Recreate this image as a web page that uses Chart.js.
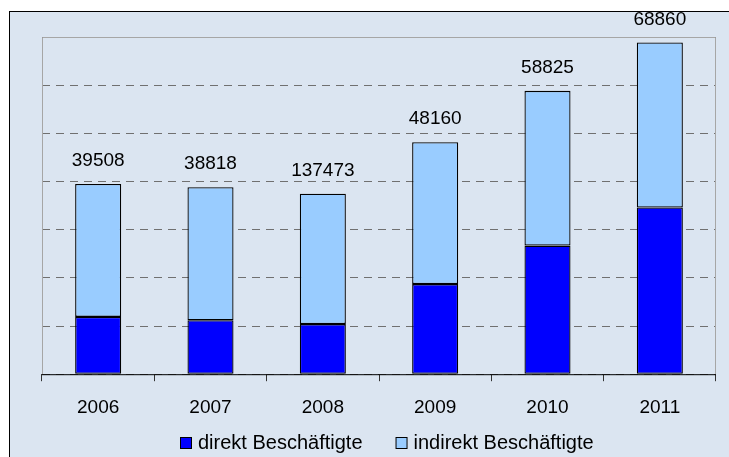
<!DOCTYPE html>
<html>
<head>
<meta charset="utf-8">
<script src="https://cdn.jsdelivr.net/npm/chart.js@4.4.1/dist/chart.umd.min.js"></script>
<style>
  html, body { margin: 0; padding: 0; background: #fff; }
  #wrap { position: relative; width: 729px; height: 457px; overflow: hidden; }
  #frame { position: absolute; left: 9px; top: 11px; width: 800px; height: 500px;
           border-left: 1px solid #000; border-top: 1px solid #000; background: #dbe5f1; }
  #myChart { position: absolute; left: 0; top: 0; }
</style>
</head>
<body>
<div id="wrap">
  <div id="frame"></div>
  <canvas id="myChart" width="729" height="457"></canvas>
</div>
<script>
const years = ['2006', '2007', '2008', '2009', '2010', '2011'];
const direkt = [11900, 11200, 10400, 18700, 26700, 34600];
const indirekt = [27608, 27618, 27073, 29460, 32125, 34260];
// labels over the bars as printed in the original (2008 says 137473)
const totalLabels = ['39508', '38818', '137473', '48160', '58825', '68860'];

const fontName = '"Liberation Sans", Arial, sans-serif';

// numbers above the stacked bars
const totalsPlugin = {
    id: 'totals',
    afterDatasetsDraw(chart) {
        const ctx = chart.ctx;
        const top = chart.getDatasetMeta(chart.data.datasets.length - 1);
        ctx.save();
        ctx.font = '19px ' + fontName;
        ctx.fillStyle = '#000';
        ctx.textAlign = 'center';
        ctx.textBaseline = 'middle';
        top.data.forEach((bar, i) => {
            ctx.fillText(totalLabels[i], bar.x, bar.y - 23);
        });
        ctx.restore();
    }
};

// gray frame around the plot area + legend in the bottom strip
const frameLegendPlugin = {
    id: 'frameLegend',
    afterDraw(chart) {
        const ctx = chart.ctx;
        const a = chart.chartArea;
        ctx.save();
        ctx.strokeStyle = '#a6a6a6';
        ctx.lineWidth = 1;
        ctx.beginPath();
        ctx.moveTo(a.left + 0.5, a.bottom);
        ctx.lineTo(a.left + 0.5, a.top + 0.5);
        ctx.lineTo(a.right - 0.5, a.top + 0.5);
        ctx.lineTo(a.right - 0.5, a.bottom);
        ctx.stroke();
        ctx.strokeStyle = '#000';
        ctx.beginPath();
        ctx.moveTo(a.left, a.bottom + 0.5);
        ctx.lineTo(a.right, a.bottom + 0.5);
        ctx.stroke();

        ctx.font = '20px ' + fontName;
        ctx.textBaseline = 'middle';
        ctx.textAlign = 'left';
        let x = 180;
        const y = 443;
        chart.data.datasets.forEach(ds => {
            ctx.fillStyle = ds.backgroundColor;
            ctx.fillRect(x + 0.5, y - 5.5, 11, 11);
            ctx.strokeStyle = '#000';
            ctx.strokeRect(x + 0.5, y - 5.5, 11, 11);
            ctx.fillStyle = '#000';
            ctx.fillText(ds.label, x + 18, y);
            x += 18 + ctx.measureText(ds.label).width + 33;
        });
        ctx.restore();
    }
};

const ctx = document.getElementById('myChart').getContext('2d');
const chart = new Chart(ctx, {
    type: 'bar',
    data: {
        labels: years,
        datasets: [{
            label: 'direkt Beschäftigte',
            data: direkt,
            backgroundColor: '#0000ff',
            borderColor: '#000000',
            borderWidth: 1.3,
            borderSkipped: false
        }, {
            label: 'indirekt Beschäftigte',
            data: indirekt,
            backgroundColor: '#99ccff',
            borderColor: '#000000',
            borderWidth: 1.3,
            borderSkipped: false
        }]
    },
    options: {
        responsive: false,
        animation: false,
        categoryPercentage: 1,
        barPercentage: 0.41,
        layout: { padding: { left: 42, right: 13, top: 37, bottom: 23 } },
        plugins: {
            legend: { display: false },
            tooltip: { enabled: false }
        },
        scales: {
            x: {
                stacked: true,
                grid: {
                    offset: true,
                    drawOnChartArea: false,
                    drawTicks: true,
                    tickLength: 7,
                    color: '#333'
                },
                border: { display: false },
                ticks: {
                    padding: 15,
                    color: '#000',
                    font: { family: fontName, size: 19 }
                }
            },
            y: {
                stacked: true,
                min: 0,
                max: 70000,
                ticks: { display: false, stepSize: 10000 },
                grid: {
                    drawTicks: false,
                    color: '#707070',
                    lineWidth: 1
                },
                border: { display: false, dash: [8, 6] }
            }
        }
    },
    plugins: [totalsPlugin, frameLegendPlugin]
});
</script>
</body>
</html>
